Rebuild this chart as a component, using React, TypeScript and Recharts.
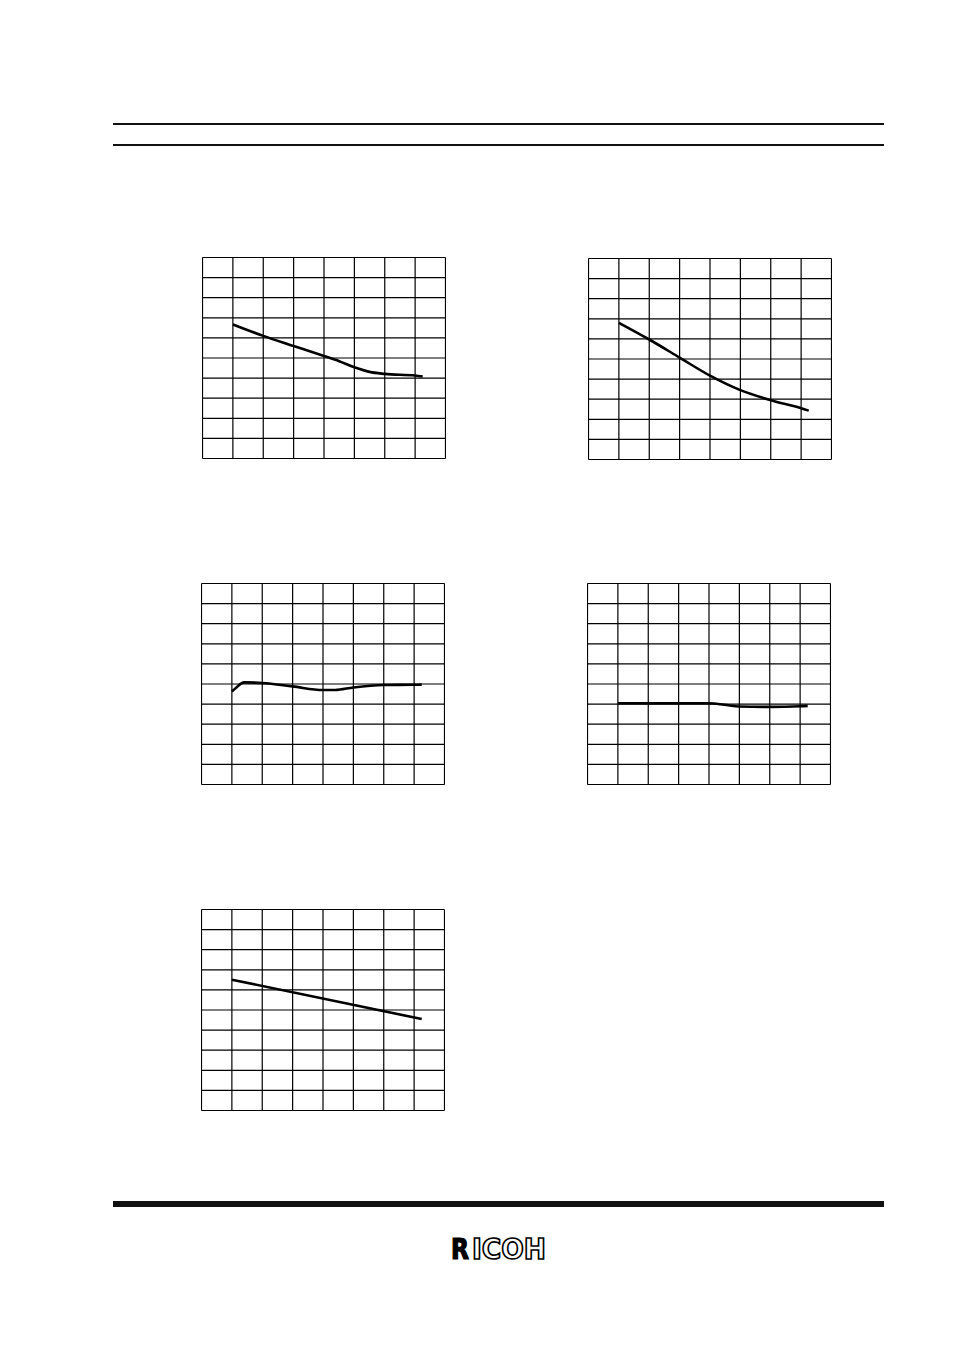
import React from "react";
import { LineChart, Line, XAxis, YAxis, CartesianGrid } from "recharts";

// grid units: x 0..8 (8 columns), y 0..10 (10 rows)
const xTicks = [0, 1, 2, 3, 4, 5, 6, 7, 8];
const yTicks = [0, 1, 2, 3, 4, 5, 6, 7, 8, 9, 10];

const chart1X = [1, 2, 3, 4, 4.5, 5, 5.5, 6, 7, 7.25];
const chart1Y = [6.67, 6.1, 5.6, 5.1, 4.84, 4.54, 4.31, 4.21, 4.13, 4.08];

const chart2X = [1, 2, 3, 4, 5, 6, 7, 7.25];
const chart2Y = [6.8, 5.97, 5.07, 4.17, 3.45, 2.95, 2.55, 2.43];

const chart3X = [1, 1.15, 1.4, 2, 3, 4, 4.4, 5, 6, 7, 7.25];
const chart3Y = [4.63, 4.83, 5.08, 5.05, 4.88, 4.7, 4.7, 4.83, 4.95, 4.96, 4.97];

const chart4X = [1, 4, 4.5, 5, 6, 7, 7.25];
const chart4Y = [4.04, 4.04, 3.97, 3.88, 3.86, 3.89, 3.91];

const chart5X = [1, 7.25];
const chart5Y = [6.51, 4.55];

const toRows = (xs: number[], ys: number[]) => xs.map((x, i) => ({ x, y: ys[i] }));

function GridChart({
  xs,
  ys,
  left,
  top,
  curve,
}: {
  xs: number[];
  ys: number[];
  left: number;
  top: number;
  curve: "monotone" | "linear";
}) {
  return (
    <div style={{ position: "absolute", left, top }}>
      <LineChart
        width={244}
        height={202}
        data={toRows(xs, ys)}
        margin={{ top: 0.5, right: 0.5, bottom: 0.5, left: 0.5 }}
      >
        <XAxis type="number" dataKey="x" domain={[0, 8]} ticks={xTicks} interval={0} hide />
        <YAxis type="number" domain={[0, 10]} ticks={yTicks} interval={0} hide />
        <CartesianGrid stroke="#000" strokeWidth={1.2} strokeOpacity={1} />
        <Line
          type={curve}
          dataKey="y"
          stroke="#000"
          strokeWidth={2.6}
          dot={false}
          isAnimationActive={false}
        />
      </LineChart>
    </div>
  );
}

export default function App() {
  return (
    <div
      style={{
        position: "absolute",
        left: 0,
        top: 0,
        width: 954,
        height: 1351,
        background: "#fff",
        overflow: "hidden",
      }}
    >
      <div style={{ position: "absolute", left: 113, top: 123, width: 771, height: 1.5, background: "#111" }} />
      <div style={{ position: "absolute", left: 113, top: 144, width: 771, height: 1.5, background: "#111" }} />

      <GridChart xs={chart1X} ys={chart1Y} left={202} top={257} curve="monotone" />
      <GridChart xs={chart2X} ys={chart2Y} left={588} top={258} curve="monotone" />
      <GridChart xs={chart3X} ys={chart3Y} left={201} top={583} curve="monotone" />
      <GridChart xs={chart4X} ys={chart4Y} left={587} top={583} curve="monotone" />
      <GridChart xs={chart5X} ys={chart5Y} left={201} top={909} curve="linear" />

      <div style={{ position: "absolute", left: 113, top: 1201, width: 771, height: 6, background: "#111" }} />

      <svg style={{ position: "absolute", left: 440, top: 1230 }} width={120} height={40}>
        <text
          x={11}
          y={29}
          fontFamily="'Liberation Sans Narrow', 'DejaVu Sans Condensed', sans-serif"
          fontWeight={900}
          fontSize={29}
          textLength={18}
          lengthAdjust="spacingAndGlyphs"
          fill="#000"
          stroke="#000"
          strokeWidth={1.2}
        >
          R
        </text>
        <text
          x={32}
          y={29}
          fontFamily="'Liberation Sans Narrow', 'DejaVu Sans Condensed', sans-serif"
          fontWeight={700}
          fontSize={29}
          textLength={74}
          lengthAdjust="spacingAndGlyphs"
          fill="#fff"
          stroke="#000"
          strokeWidth={1.6}
        >
          ICOH
        </text>
      </svg>
    </div>
  );
}
